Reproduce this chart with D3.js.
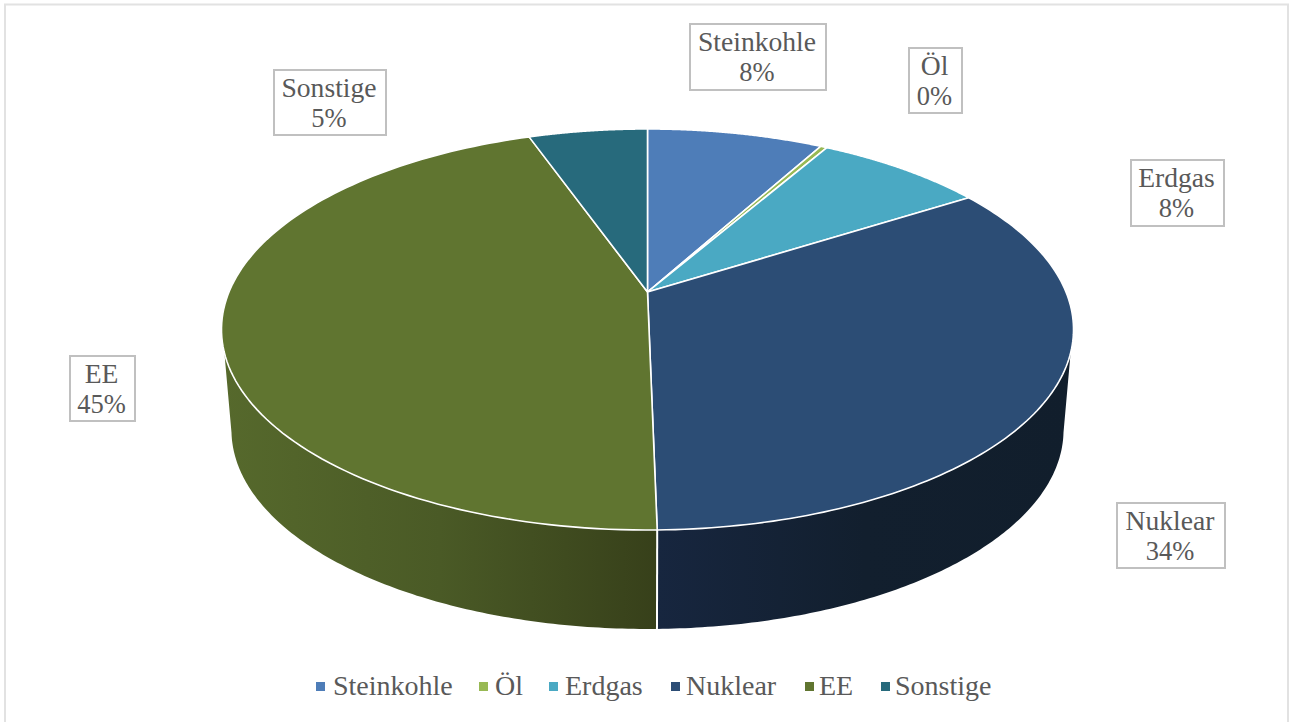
<!DOCTYPE html>
<html><head><meta charset="utf-8">
<script src="https://cdnjs.cloudflare.com/ajax/libs/d3/7.8.5/d3.min.js"></script>
<style>html,body{margin:0;background:#fff}svg{display:block}text{font-family:"Liberation Serif",serif;fill:#595959}</style>
</head><body><svg id="c" width="1290" height="722"></svg>
<script>
const categories=["Steinkohle","Öl","Erdgas","Nuklear","EE","Sonstige"];
const values=[8.0,0.3,7.7,33.7,44.9,5.4];
const percentLabels=["8%","0%","8%","34%","45%","5%"];
const colors=["#4e7db8","#98b954","#4aa9c3","#2c4d75","#607530","#276a7c"];
const labelBoxes=[[690,24,136,66],[909,48,53,65],[1131,160,93,66],[1117,503,108,65],[70,356,65,65],[274,70,112,65]];
const wallStops={Nuklear:["#17263f","#121f2e","#111e2c"],EE:["#37401a","#4a5a26","#56692c"]};

const svg=d3.select("#c");
svg.append("rect").attr("x",5).attr("y",4.5).attr("width",1283).attr("height",730).attr("fill","#fff").attr("stroke","#e2e2e2").attr("stroke-width",2);

const a=0.187;
const proj=(cx,cy,A,B)=>t=>{const u=Math.sin(t),v=-Math.cos(t),w=1-a*v;return [cx+A*u/w,cy+B*v/w];};
const topFace=proj(647.5,292,418.5,193.5), botFace=proj(647.5,392.8,408.7,192);
const pie=d3.pie().sort(null).value(d=>d);
const arcs=pie(values);
const sample=(f,t0,t1)=>d3.range(0,121).map(i=>f(t0+(t1-t0)*i/120));
const line=d3.line();
const rad=d=>d*Math.PI/180;
const silTop=[rad(107.3),rad(252.7)], silBot=[rad(101.5),rad(258.5)];

const defs=svg.append("defs");
function grad(id,x0,x1,stops){
  const g=defs.append("linearGradient").attr("id",id).attr("gradientUnits","userSpaceOnUse").attr("x1",x0).attr("x2",x1).attr("y1",0).attr("y2",0);
  stops.forEach((c,i)=>g.append("stop").attr("offset",i/(stops.length-1)).attr("stop-color",c));
}
grad("wN",657,1073,wallStops.Nuklear);
grad("wE",657,222,wallStops.EE);
const wallGap=arcs[3].endAngle;
const nukWall=[...sample(topFace,silTop[0],wallGap),...sample(botFace,wallGap,silBot[0])];
const eeWall=[...sample(topFace,wallGap,silTop[1]),...sample(botFace,silBot[1],wallGap)];
svg.append("path").attr("d",line(nukWall)+"Z").attr("fill","url(#wN)");
svg.append("path").attr("d",line(eeWall)+"Z").attr("fill","url(#wE)");
svg.append("path").attr("d",line([topFace(wallGap),botFace(wallGap)])).attr("stroke","#fff").attr("stroke-width",2).attr("fill","none");

const center=[647.5,292];
svg.selectAll("path.s").data(arcs).join("path").attr("class","s")
 .attr("d",d=>line([center,...sample(topFace,d.startAngle,d.endAngle)])+"Z")
 .attr("fill",(d,i)=>colors[i]).attr("stroke","#fff").attr("stroke-width",1.6).attr("stroke-linejoin","round");

labelBoxes.forEach((b,i)=>{
  const g=svg.append("g");
  g.append("rect").attr("x",b[0]).attr("y",b[1]).attr("width",b[2]).attr("height",b[3]).attr("fill","#fff").attr("stroke","#c0c0c0").attr("stroke-width",2);
  g.append("text").attr("x",b[0]+b[2]/2-1).attr("y",b[1]+27).attr("text-anchor","middle").attr("font-size",27.6).text(categories[i]);
  g.append("text").attr("x",b[0]+b[2]/2-1).attr("y",b[1]+57).attr("text-anchor","middle").attr("font-size",26.5).text(percentLabels[i]);
});

const legendX=[333,495,565,686,819,895];
const legendSwatchX=[316,479,549,671,805,881];
categories.forEach((c,i)=>{
  svg.append("rect").attr("x",legendSwatchX[i]).attr("y",682).attr("width",9).attr("height",9).attr("fill",colors[i]);
  svg.append("text").attr("x",legendX[i]).attr("y",695).attr("font-size",28).text(c);
});
</script></body></html>
